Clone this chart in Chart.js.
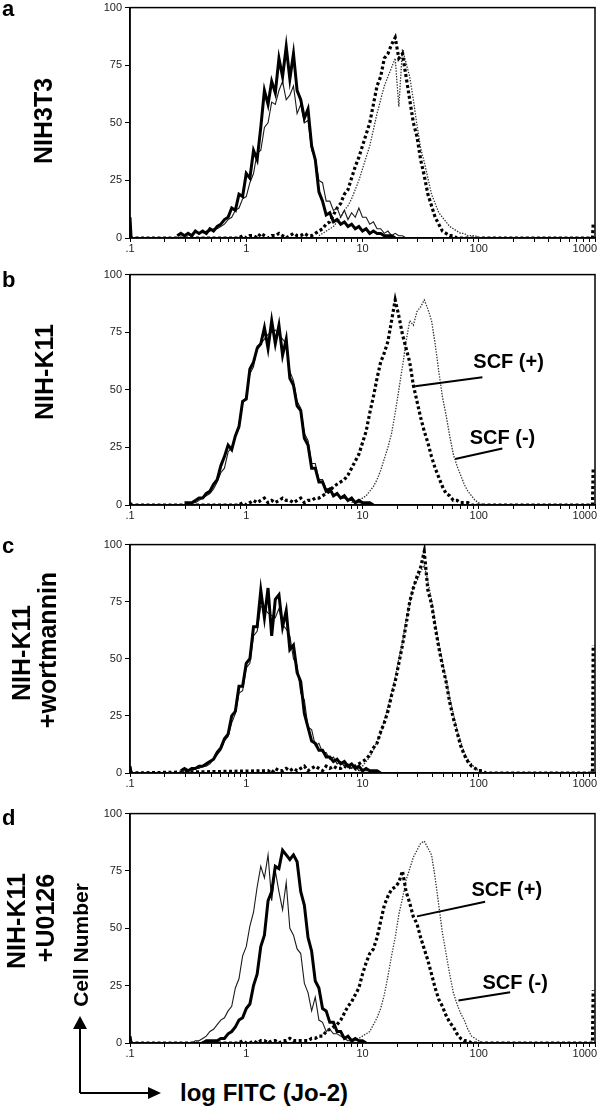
<!DOCTYPE html>
<html>
<head>
<meta charset="utf-8">
<script src="https://cdn.jsdelivr.net/npm/chart.js@4.4.0/dist/chart.umd.min.js"></script>
<style>
  html, body { margin: 0; padding: 0; background: #fff; width: 600px; height: 1107px; overflow: hidden; position: relative; }
  canvas { position: absolute; left: 0; }
  .lbl { position: absolute; font-family: "Liberation Sans", Arial, sans-serif; font-weight: bold; color: #000; white-space: nowrap; line-height: 1; }
  .rot { transform: translate(-50%, -50%) rotate(-90deg); }
</style>
</head>
<body>
<canvas id="chartA" width="600" height="260" style="top:-2px"></canvas>
<canvas id="chartB" width="600" height="260" style="top:265px"></canvas>
<canvas id="chartC" width="600" height="258" style="top:535px"></canvas>
<canvas id="chartD" width="600" height="259" style="top:804px"></canvas>

<div class="lbl" style="left:2px; top:-2px; font-size:22px">a</div>
<div class="lbl" style="left:2px; top:269px; font-size:22px">b</div>
<div class="lbl" style="left:2px; top:535px; font-size:22px">c</div>
<div class="lbl" style="left:2px; top:807px; font-size:22px">d</div>

<div class="lbl rot" style="left:43px; top:121px; font-size:25px">NIH3T3</div>
<div class="lbl rot" style="left:44px; top:372px; font-size:25px">NIH-K11</div>
<div class="lbl rot" style="left:21px; top:653px; font-size:25px">NIH-K11</div>
<div class="lbl rot" style="left:47px; top:650px; font-size:25px">+wortmannin</div>
<div class="lbl rot" style="left:16px; top:921px; font-size:25px">NIH-K11</div>
<div class="lbl rot" style="left:45px; top:918px; font-size:25px">+U0126</div>
<div class="lbl rot" style="left:80px; top:945px; font-size:21px">Cell Number</div>
<div class="lbl" style="left:180px; top:1081px; font-size:24px">log FITC (Jo-2)</div>

<svg style="position:absolute; left:0; top:1000px" width="200" height="107">
  <line x1="80" y1="93" x2="80" y2="25" stroke="#000" stroke-width="2"/>
  <polygon points="80,16 73,29 87,29" fill="#000"/>
  <line x1="80" y1="93" x2="150" y2="93" stroke="#000" stroke-width="2"/>
  <polygon points="161,93 148,87 148,99" fill="#000"/>
</svg>

<script>
// channels: 64 per decade, 0 = .1, 256 = 1000; every series sampled each 2 channels
const STEP = 2;
const CH_PER_DECADE = 64;
const decadeLabels = [".1", "1", "10", "100", "1000"];

// a: NIH3T3
const aBoldFrom = 26;
const aBold = [1,2,1,2,1,3,2,3,2,4, 3,5,6,8,9,13,12,19,18,28, 26,38,34,48,64,58,68,63,78,70,
  83,69,80,64,60,52,56,40,34,20, 16,10,11,7,8,6,7,5,6,4, 5,3,4,2,3,2,2,1,1,1, 0];
const aThinFrom = 40;
const aThin = [2,3,3,4,4,5,6,8,9,12, 13,17,18,24,28,37,38,48,50,59, 58,64,68,60,62,66,54,58,50,51,
  38,35,25,24,16,16,12,13,9,12, 8,11,9,13,9,9,6,7,4,4, 2,3,1,2,1,1,0];
const aDashFrom = 60;
const aDash = [0,1,0,1,1,0,2,1,0,1, 1,2,1,0,1,2,1,1,2,1,
  1,2,3,4,6,7,10,13,15,19, 21,26,31,35,40,45,50,58,66,70, 78,80,84,87,78,80,70,60,50,44,
  34,27,19,14,9,6,3,2,1,1, 0];
const aDotFrom = 104;
const aDot = [1,2,3,4,5,7,9,12,14,17, 21,25,30,35,40,47,54,60,66,70, 74,78,57,82,76,70,60,49,39,33,
  26,19,15,11,9,7,5,4,3,2, 2,1,1,1,0];

// b: NIH-K11
const bBoldFrom = 30;
const bBold = [1,1,1,2,3,3,5,6,9,11, 17,21,26,24,30,34,45,46,59,62, 68,70,77,68,80,70,78,65,72,55,
  52,43,41,29,26,16,16,10,10,6, 7,4,5,3,4,2,3,1,2,1, 1,1,0];
const bThinFrom = 30;
const bThin = [0,1,1,1,2,3,4,5,7,10, 14,16,23,25,30,34,44,47,57,60, 69,70,72,74,75,76,74,72,70,58,
  54,45,42,31,28,18,18,11,11,7, 7,4,5,3,3,2,2,1,1,1, 0];
const bDashFrom = 60;
const bDash = [0,1,0,1,2,1,2,3,1,2, 1,2,3,2,2,1,2,3,
  1,2,2,3,3,4,5,6,8,9, 10,11,13,16,19,22,27,32,40,47, 55,62,66,71,80,89,82,74,68,62,
  52,45,38,32,27,21,16,12,8,5, 4,2,2,1,1,1,0];
const bDotFrom = 122;
const bDot = [1,2,2,3,4,6,8,11,15,20, 25,31,40,50,60,71,80,78,84,86, 89,85,80,70,58,47,39,30,22,17,
  13,9,6,4,2,1,0];

// c: NIH-K11 + wortmannin
const cBoldFrom = 28;
const cBold = [1,2,1,2,2,3,3,4,5,6, 9,11,15,17,25,27,38,38,48,50, 64,64,80,68,81,60,76,78,64,71,
  54,56,44,40,26,20,14,13,10,10, 7,7,5,6,4,5,3,4,2,3, 1,2,1,1,1,0];
const cThinFrom = 28;
const cThin = [0,1,1,1,2,2,3,3,4,6, 8,10,14,16,22,26,35,36,46,48, 60,62,73,72,70,69,68,72,65,63,
  60,50,47,35,32,20,19,12,13,9, 9,6,7,4,5,3,4,2,3,1, 1,1,1,0];
const cDashFrom = 76;
const cDash = [1,0,2,1,1,2,1,2,1,2, 3,1,2,3,2,1,3,2,3,2, 2,3,2,3,3,
  4,5,6,8,11,13,18,22,27,34, 40,48,56,65,75,81,86,90,97,80, 74,64,55,47,40,31,24,18,12,8,
  5,3,2,1,1,0];
const cDotFrom = 124;
const cDot = [1,2,3,5,7,10,14,17,23,29, 35,42,50,57,67,74,82,84,88,91, 84,76,66,57,49,41,33,26,19,14,
  9,6,4,2,1,0];

// d: NIH-K11 + U0126
const dBoldFrom = 40;
const dBold = [0,1,1,1,1,2,2,4,5,7, 10,11,15,17,25,30,42,47,62,66, 77,76,84,82,80,82,79,66,60,46,
  40,27,24,15,14,9,9,5,5,2, 3,1,2,1,1,0];
const dThinFrom = 34;
const dThin = [0,1,1,2,3,5,6,8,10,11, 14,16,24,28,38,42,51,57,68,77, 72,82,62,75,66,58,70,50,47,41,
  39,26,22,14,20,10,9,5,6,4, 4,3,2,1,1,0];
const dDashFrom = 60;
const dDash = [0,1,0,0,1,0,1,1,0,1, 1,0,1,1,2,1,1,1,
  1,1,2,2,3,3,5,6,7,8, 10,13,16,18,21,24,30,35,39,41, 46,53,60,64,67,68,70,75,66,61,
  55,52,46,41,36,30,24,19,16,12, 9,7,4,2,1,1,0];
const dDotFrom = 122;
const dDot = [1,1,2,3,4,5,8,11,15,21, 29,38,46,56,63,71,76,81,84,87, 88,85,82,72,60,48,39,30,22,17,
  13,10,6,3,2,1,0];

// spikes at the ends of the axis (first / last channel)
const leftSpike = [9, 1, 3, 3];
const rightSpike = [6, 16, 56, 23];

// callouts: [text, text ch, text value, line from ch, from value, to ch, to value]
const calloutsB = [
  ["SCF (+)", 189, 62, 157, 51.5, 194, 55.4],
  ["SCF (-)", 187, 29, 179, 20, 205, 24.5]
];
const calloutsD = [
  ["SCF (+)", 188, 66.5, 158, 55.2, 195.5, 61.6],
  ["SCF (-)", 194, 26, 180.8, 18.5, 209.3, 22.1]
];
const calloutsByCanvas = { chartB: calloutsB, chartD: calloutsD };

const FONT = '"Liberation Sans", Arial, sans-serif';

function serie(vals, from) {
  return vals.map((v, i) => ({ x: from + STEP * i, y: v }));
}

// tick marks: every decade plus 2..9 inside each one
const xTickCh = [];
for (let d = 0; d <= 4; d++) {
  xTickCh.push(d * CH_PER_DECADE);
  if (d < 4) {
    for (let k = 2; k <= 9; k++) xTickCh.push((d + Math.log10(k)) * CH_PER_DECADE);
  }
}

const framePlugin = {
  id: "framePlugin",
  afterDraw(chart) {
    const { ctx, chartArea: a, scales } = chart;
    const x = scales.x, y = scales.y;
    ctx.save();
    ctx.strokeStyle = "#000";
    ctx.lineWidth = 1.5;
    ctx.strokeRect(a.left, a.top, a.right - a.left, a.bottom - a.top);

    ctx.fillStyle = "#222";
    ctx.font = "11px " + FONT;
    ctx.textBaseline = "top";
    decadeLabels.forEach((lab, i) => {
      const px = x.getPixelForValue(i * CH_PER_DECADE);
      const last = i === decadeLabels.length - 1;
      ctx.textAlign = last ? "right" : "center";
      ctx.fillText(lab, last ? px + 2 : px, a.bottom + 5);
    });

    const callouts = calloutsByCanvas[chart.canvas.id] || [];
    ctx.fillStyle = "#000";
    ctx.font = "bold 20px " + FONT;
    ctx.textAlign = "left";
    ctx.textBaseline = "middle";
    ctx.lineWidth = 2;
    callouts.forEach(c => {
      ctx.fillText(c[0], x.getPixelForValue(c[1]), y.getPixelForValue(c[2]));
      ctx.beginPath();
      ctx.moveTo(x.getPixelForValue(c[3]), y.getPixelForValue(c[4]));
      ctx.lineTo(x.getPixelForValue(c[5]), y.getPixelForValue(c[6]));
      ctx.stroke();
    });
    ctx.restore();
  }
};

function creaPannello(id, idx, bold, boldFrom, thin, thinFrom, dash, dashFrom, dot, dotFrom) {
  const boldData = [{ x: 0, y: leftSpike[idx] }, { x: 0.6, y: 0 }, { x: 1, y: null }].concat(serie(bold, boldFrom));
  const dashData = [{ x: 0, y: 0 }].concat(serie(dash, dashFrom), [{ x: 254.6, y: 0 }, { x: 255, y: rightSpike[idx] }]);

  return new Chart(document.getElementById(id), {
    type: "line",
    data: {
      datasets: [
        { label: "bold", data: boldData, borderColor: "#000", borderWidth: 3, order: 1 },
        { label: "thin", data: serie(thin, thinFrom), borderColor: "#1a1a1a", borderWidth: 1.1, order: 2 },
        { label: "SCF (+)", data: dashData, borderColor: "#000", borderWidth: 3.2, borderDash: [3, 2.5], order: 3 },
        { label: "SCF (-)", data: serie(dot, dotFrom), borderColor: "#333", borderWidth: 1.3, borderDash: [1.4, 1.4], order: 4 }
      ]
    },
    options: {
      responsive: false,
      animation: false,
      devicePixelRatio: 1,
      spanGaps: false,
      layout: { padding: { left: 0, right: 5, top: 7, bottom: 0 } },
      elements: { point: { radius: 0 }, line: { tension: 0 } },
      plugins: { legend: { display: false }, tooltip: { enabled: false } },
      scales: {
        x: {
          type: "linear",
          min: 0,
          max: 256,
          afterBuildTicks: s => { s.ticks = xTickCh.map(v => ({ value: v })); },
          afterFit: s => { s.height = 20; },
          ticks: { display: false, autoSkip: false },
          grid: { drawOnChartArea: false, tickLength: 4, color: "#000", lineWidth: 1 },
          border: { color: "#000", width: 1.5 }
        },
        y: {
          min: 0,
          max: 100,
          afterFit: s => { s.width = 130; },
          ticks: { stepSize: 25, padding: 3, color: "#222", font: { size: 11, family: FONT } },
          grid: { drawOnChartArea: false, tickLength: 5, color: "#000" },
          border: { color: "#000", width: 1.5 }
        }
      }
    },
    plugins: [framePlugin]
  });
}

creaPannello("chartA", 0, aBold, aBoldFrom, aThin, aThinFrom, aDash, aDashFrom, aDot, aDotFrom);
creaPannello("chartB", 1, bBold, bBoldFrom, bThin, bThinFrom, bDash, bDashFrom, bDot, bDotFrom);
creaPannello("chartC", 2, cBold, cBoldFrom, cThin, cThinFrom, cDash, cDashFrom, cDot, cDotFrom);
creaPannello("chartD", 3, dBold, dBoldFrom, dThin, dThinFrom, dDash, dDashFrom, dDot, dDotFrom);
</script>
</body>
</html>
